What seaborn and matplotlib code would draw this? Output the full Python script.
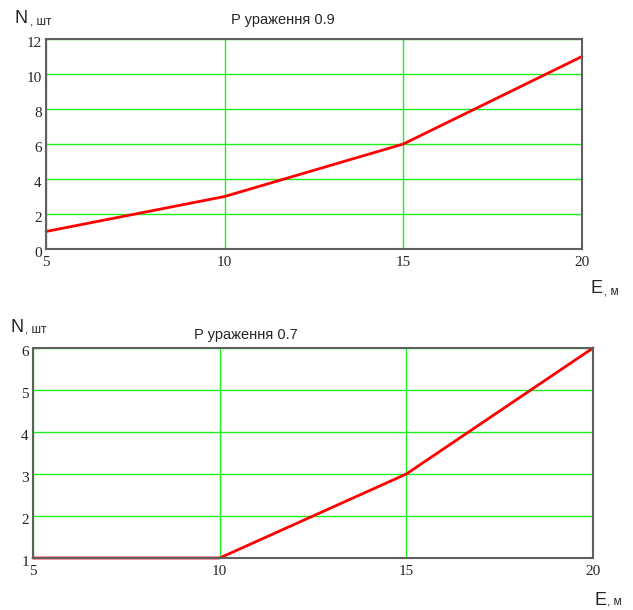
import matplotlib
matplotlib.use("Agg")
import matplotlib.pyplot as plt
import matplotlib.transforms as mtransforms
import seaborn as sns
import pandas as pd

# дані
e_values = [5, 10, 15, 20]
n_p09 = [1, 3, 6, 11]
n_p07 = [1, 1, 3, 6]

W, H = 633, 610

sns.set_style("white")
plt.rcParams["font.family"] = ["Liberation Sans", "DejaVu Sans"]

fig = plt.figure(figsize=(W / 100, H / 100), dpi=100)


def px_axes(left, top, right, bottom):
    return fig.add_axes([left / W, 1 - bottom / H, (right - left) / W, (bottom - top) / H])


def px_text(x, y, s, size, **kw):
    return fig.text(x / W, 1 - y / H, s, fontsize=size, va="baseline", **kw)


def label_pair(x, y, big, small, gap=1, dy=0):
    # велика літера + дрібний підпис одразу за нею
    t = px_text(x, y, big, 13)
    bb = t.get_window_extent(renderer=fig.canvas.get_renderer())
    px_text(bb.x1 + gap, y + dy, small, 8.5)


def style_axes(ax, yticks, ylim):
    ax.set_xlim(5, 20)
    ax.set_ylim(*ylim)
    ax.set_xticks(e_values)
    ax.set_yticks(yticks)
    ax.grid(True, color="#1ef01e", lw=1.0)
    ax.set_axisbelow(True)
    for sp in ax.spines.values():
        sp.set_color("#606060")
        sp.set_linewidth(1.5)
        sp.set_zorder(5)
    ax.tick_params(axis="y", length=0, pad=3)
    ax.tick_params(axis="x", length=0, pad=5)
    ax.set_xlabel("")
    ax.set_ylabel("")
    for lab in ax.get_xticklabels() + ax.get_yticklabels():
        lab.set_fontfamily("Liberation Serif")
        lab.set_fontsize(11)
    off = mtransforms.ScaledTranslation(0, -3 / 100, fig.dpi_scale_trans)
    for lab in ax.get_yticklabels():
        lab.set_transform(lab.get_transform() + off)


# P ураження 0.9
ax1 = px_axes(46, 39, 582, 249)
df1 = pd.DataFrame({"E": e_values, "N": n_p09})
sns.lineplot(data=df1, x="E", y="N", ax=ax1, color="#ff0000", lw=2, zorder=4, clip_on=False)
style_axes(ax1, [0, 2, 4, 6, 8, 10, 12], (0, 12))

# P ураження 0.7
ax2 = px_axes(33, 348, 593, 558)
df2 = pd.DataFrame({"E": e_values, "N": n_p07})
sns.lineplot(data=df2, x="E", y="N", ax=ax2, color="#ff0000", lw=2, zorder=4, clip_on=False)
style_axes(ax2, [1, 2, 3, 4, 5, 6], (1, 6))

# підписи
px_text(283, 24, "P ураження 0.9", 10.5, ha="center")
px_text(246, 339, "P ураження 0.7", 10.5, ha="center")

fig.canvas.draw()
label_pair(15, 23, "N", ", шт", gap=2, dy=2)
label_pair(590, 293, "E", ", м", gap=2, dy=1)
label_pair(11, 332, "N", ", шт", gap=1)
label_pair(594, 605, "E", ", м", gap=1)

fig.savefig("out.png", dpi=100)
plt.close(fig)
